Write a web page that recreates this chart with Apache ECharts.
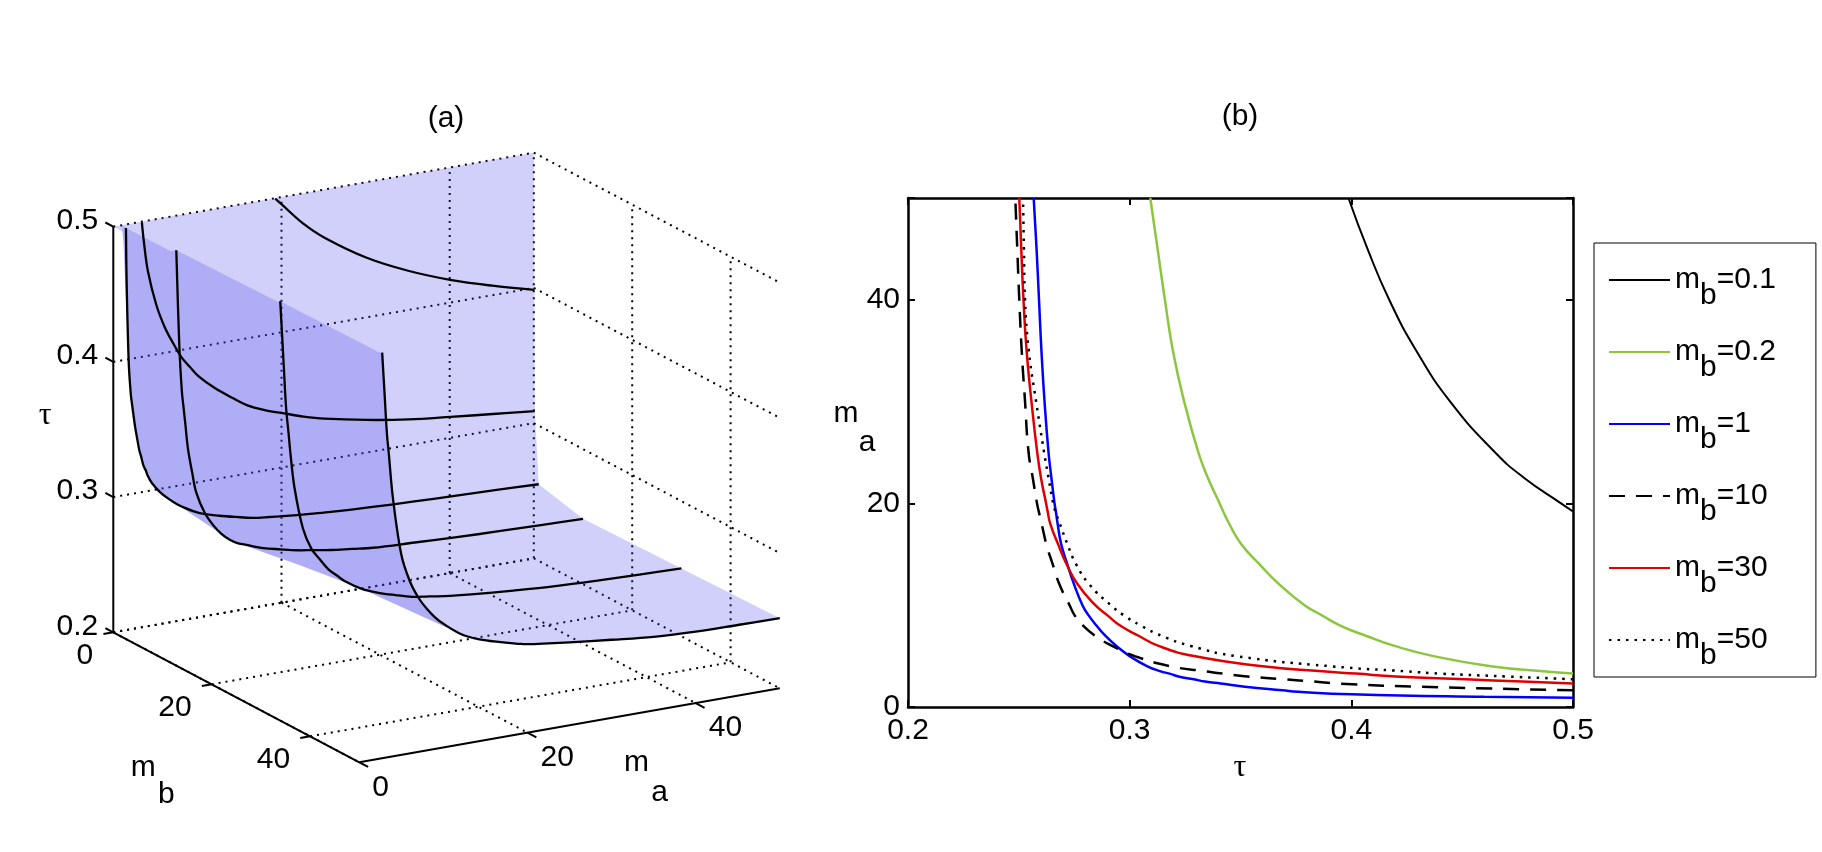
<!DOCTYPE html>
<html>
<head>
<meta charset="utf-8">
<title>Threshold tau surface and curves</title>
<script src="https://cdn.jsdelivr.net/npm/echarts@6/dist/echarts.min.js"></script>
<style>
  html, body { margin: 0; padding: 0; background: #fff; }
  #chart { width: 1822px; height: 852px; }
</style>
</head>
<body>
<div id="chart"></div>
<script>
const maGrid = [0, 0.92, 1, 1.25, 1.5, 1.64, 2, 2.3, 2.5, 2.72, 3, 3.28, 3.5, 4, 5, 6, 7, 8, 9, 10,
  12, 14, 16, 18, 19.2, 20, 22.5, 25, 30, 35, 40, 45, 50];

// tau on each m_b curve at the m_a values above (0.5 = sits on the tau limit)
const tauMb01 = [0.5, 0.5, 0.5, 0.5, 0.5, 0.5, 0.5, 0.5, 0.5, 0.5, 0.5, 0.5, 0.5, 0.5, 0.5, 0.5, 0.5,
  0.5, 0.5, 0.5, 0.5, 0.5, 0.5, 0.5, 0.5, 0.4946, 0.478, 0.4649, 0.4446, 0.4293, 0.4171, 0.4073, 0.3987];
const tauMb02 = [0.5, 0.5, 0.5, 0.5, 0.5, 0.5, 0.5, 0.5, 0.5, 0.5, 0.5, 0.5, 0.4865, 0.463, 0.437,
  0.4195, 0.4065, 0.395, 0.3867, 0.3789, 0.3677, 0.3586, 0.3503, 0.3449, 0.3422, 0.3406, 0.3353,
  0.331, 0.3246, 0.3195, 0.3159, 0.3126, 0.3093];
const tauMb1 = [0.5, 0.5, 0.46, 0.40, 0.376, 0.369, 0.352, 0.341, 0.334, 0.329, 0.322, 0.318, 0.314,
  0.308, 0.300, 0.294, 0.289, 0.285, 0.2815, 0.2787, 0.275, 0.2719, 0.2691, 0.2675, 0.2667, 0.2661,
  0.2647, 0.2634, 0.2616, 0.2602, 0.2591, 0.258, 0.2567];
const tauMb10 = [0.5, 0.5, 0.5, 0.5, 0.5, 0.5, 0.429, 0.395, 0.383, 0.370, 0.353, 0.342, 0.3346,
  0.3185, 0.3023, 0.2921, 0.2844, 0.279, 0.2752, 0.2729, 0.2684, 0.2653, 0.2624, 0.2603, 0.259,
  0.2582, 0.2563, 0.2544, 0.2528, 0.2513, 0.2502, 0.2493, 0.2484];
const tauMb30 = [0.5, 0.5, 0.5, 0.5, 0.5, 0.5, 0.5, 0.5, 0.477, 0.4515, 0.42, 0.402, 0.387, 0.36,
  0.329, 0.313, 0.304, 0.2957, 0.29, 0.2845, 0.2767, 0.2716, 0.2677, 0.2642, 0.263, 0.2623, 0.26,
  0.2583, 0.2557, 0.2535, 0.2521, 0.2511, 0.2502];
const tauMb50 = [0.5, 0.5, 0.5, 0.5, 0.5, 0.5, 0.5, 0.5, 0.5, 0.5, 0.47, 0.44, 0.425, 0.391, 0.348,
  0.3275, 0.3144, 0.305, 0.2974, 0.2915, 0.282, 0.2759, 0.2719, 0.2685, 0.2665, 0.2655, 0.2634,
  0.2614, 0.2578, 0.2545, 0.2528, 0.2523, 0.2519];

const mbValues = [0.1, 0.2, 1, 10, 30, 50];
const curveNames = ['m_b=0.1', 'm_b=0.2', 'm_b=1', 'm_b=10', 'm_b=30', 'm_b=50'];
const curveTaus = [tauMb01, tauMb02, tauMb1, tauMb10, tauMb30, tauMb50];

// axis ranges and ticks
const maRange = [0, 50], mbRange = [0, 50], tauRange = [0.2, 0.5];
const maTicks = [0, 20, 40], mbTicks = [0, 20, 40], tauTicks = [0.2, 0.3, 0.4, 0.5];

const curveStyles = [
  { color: '#000000', width: 2, type: 'solid' },
  { color: '#8cc63f', width: 2.5, type: 'solid' },
  { color: '#0000ff', width: 2.5, type: 'solid' },
  { color: '#000000', width: 2.5, type: [16, 11] },
  { color: '#e00000', width: 2.5, type: 'solid' },
  { color: '#000000', width: 2.5, type: [2.5, 6] }
];

const sans = '"Liberation Sans", Arial, Helvetica, sans-serif';
const serif = '"Liberation Serif", "DejaVu Serif", serif';
const fontSize = 30;
const surfaceFill = 'rgba(70, 66, 234, 0.25)';
const dotted = { stroke: '#000', lineWidth: 2, lineDash: [2, 5], fill: null };
const solid = { stroke: '#000', lineWidth: 2, fill: null };

// orthographic view of panel (a): screen shift for one unit along each axis
const view = { x0: 113.3, y0: 632.3, ma: [8.41, -1.48], mb: [4.92, 2.6], tau: [0, -1352] };

function project(ma, mb, tau) {
  return [
    view.x0 + ma * view.ma[0] + mb * view.mb[0],
    view.y0 + ma * view.ma[1] + mb * view.mb[1] + (tau - tauRange[0]) * view.tau[1]
  ];
}

function unit(v, len) {
  const n = Math.hypot(v[0], v[1]);
  return [v[0] / n * len, v[1] / n * len];
}

function textEl(text, x, y, align, opts) {
  return {
    type: 'text',
    style: Object.assign({
      text: text, x: x, y: y, fill: '#000', fontSize: fontSize, fontFamily: sans,
      align: align, verticalAlign: 'middle', textAlign: align, textVerticalAlign: 'middle'
    }, opts || {})
  };
}

function line3d(api, a, b, style) {
  return { type: 'polyline', shape: { points: [api.coord(project(...a)), api.coord(project(...b))] }, style: style };
}

function renderBoxGrid(params, api) {
  const els = [];
  const [ma0, ma1] = maRange, [mb0, mb1] = mbRange, [t0, t1] = tauRange;
  tauTicks.forEach(t => {
    els.push(line3d(api, [ma0, mb0, t], [ma1, mb0, t], dotted));   // back wall
    els.push(line3d(api, [ma1, mb0, t], [ma1, mb1, t], dotted));   // right wall
  });
  maTicks.forEach(m => {
    if (m > ma0) els.push(line3d(api, [m, mb0, t0], [m, mb0, t1], dotted));
    els.push(line3d(api, [m, mb0, t0], [m, mb1, t0], dotted));     // floor
  });
  mbTicks.forEach(m => {
    els.push(line3d(api, [ma1, m, t0], [ma1, m, t1], dotted));
    els.push(line3d(api, [ma0, m, t0], [ma1, m, t0], dotted));     // floor
  });
  return { type: 'group', children: els };
}

function renderSurface(params, api) {
  const rows = [{ mb: mbRange[0], taus: maGrid.map(() => tauRange[1]) }]
    .concat(mbValues.map((mb, i) => ({ mb: mb, taus: curveTaus[i] })));
  let up = '', down = '';
  for (let k = 0; k < rows.length - 1; k++) {
    for (let j = 0; j < maGrid.length - 1; j++) {
      const q = [
        [maGrid[j], rows[k].mb, rows[k].taus[j]],
        [maGrid[j + 1], rows[k].mb, rows[k].taus[j + 1]],
        [maGrid[j + 1], rows[k + 1].mb, rows[k + 1].taus[j + 1]],
        [maGrid[j], rows[k + 1].mb, rows[k + 1].taus[j]]
      ].map(p => api.coord(project(p[0], p[1], p[2])));
      [[q[0], q[1], q[2]], [q[0], q[2], q[3]]].forEach(t => {
        const area = (t[1][0] - t[0][0]) * (t[2][1] - t[0][1]) - (t[2][0] - t[0][0]) * (t[1][1] - t[0][1]);
        if (Math.abs(area) < 0.01) return;
        const d = 'M' + t.map(p => p[0].toFixed(2) + ',' + p[1].toFixed(2)).join('L') + 'Z';
        if (area > 0) up += d; else down += d;
      });
    }
  }
  // each facing is one fill, so the fold where they overlap shows darker
  return {
    type: 'group',
    children: [
      { type: 'path', shape: { pathData: up }, style: { fill: surfaceFill, stroke: null } },
      { type: 'path', shape: { pathData: down }, style: { fill: surfaceFill, stroke: null } }
    ]
  };
}

function renderCurves3d(params, api) {
  const els = mbValues.map((mb, i) => {
    const taus = curveTaus[i];
    const start = taus.lastIndexOf(tauRange[1]);
    const pts = maGrid.slice(start).map((ma, j) => api.coord(project(ma, mb, taus[start + j])));
    return { type: 'polyline', shape: { points: pts, smooth: 0.35 }, style: { stroke: '#000', lineWidth: 2.3, fill: null } };
  });
  return { type: 'group', children: els };
}

function renderAxes3d(params, api) {
  const els = [];
  const [ma0, ma1] = maRange, [mb0, mb1] = mbRange, [t0, t1] = tauRange;
  els.push(line3d(api, [ma0, mb0, t0], [ma0, mb0, t1], solid));
  els.push(line3d(api, [ma0, mb0, t0], [ma0, mb1, t0], solid));
  els.push(line3d(api, [ma0, mb1, t0], [ma1, mb1, t0], solid));

  const tickTau = unit([-view.mb[0], -view.mb[1]], 9);
  const tickMb = unit([-view.ma[0], -view.ma[1]], 10);
  const tickMa = unit([view.mb[0], view.mb[1]], 10);
  const tick = (p, d) => ({ type: 'polyline', shape: { points: [p, [p[0] + d[0], p[1] + d[1]]] }, style: solid });

  tauTicks.forEach(t => {
    const p = api.coord(project(ma0, mb0, t));
    els.push(tick(p, tickTau));
    els.push(textEl(t.toFixed(1), p[0] - 15, p[1] - 6, 'right'));
  });
  mbTicks.forEach(m => {
    const p = api.coord(project(ma0, m, t0));
    els.push(tick(p, tickMb));
    els.push(textEl(String(m), p[0] - 20, p[1] + 23, 'right'));
  });
  maTicks.forEach(m => {
    const p = api.coord(project(m, mb1, t0));
    els.push(tick(p, tickMa));
    els.push(textEl(String(m), p[0] + 13, p[1] + 25, 'left'));
  });

  // axis names
  const tauAnchor = api.coord(project(ma0, mb0, (t0 + t1) / 2));
  els.push(textEl('τ', tauAnchor[0] - 68, tauAnchor[1] - 14, 'center', { fontFamily: serif, fontSize: 32 }));
  const mbAnchor = api.coord(project(ma0, (mb0 + mb1) / 2, t0));
  els.push(textEl('m', mbAnchor[0] - 93, mbAnchor[1] + 70, 'center'));
  els.push(textEl('b', mbAnchor[0] - 70, mbAnchor[1] + 97, 'center'));
  const maAnchor = api.coord(project((ma0 + ma1) / 2, mb1, t0));
  els.push(textEl('m', maAnchor[0] + 67, maAnchor[1] + 37, 'center'));
  els.push(textEl('a', maAnchor[0] + 90, maAnchor[1] + 67, 'center'));
  return { type: 'group', children: els };
}

const axisText = { color: '#000', fontSize: fontSize, fontFamily: sans };
const blackLine = { color: '#000', width: 2.5 };

const lineSeries = mbValues.map((mb, i) => {
  const taus = curveTaus[i];
  const start = taus.lastIndexOf(tauRange[1]);
  return {
    name: curveNames[i],
    type: 'line',
    xAxisIndex: 0,
    yAxisIndex: 0,
    data: maGrid.slice(start).map((ma, j) => [taus[start + j], ma]),
    symbol: 'none',
    smooth: 0.5,
    lineStyle: curveStyles[i],
    itemStyle: { color: curveStyles[i].color },
    z: 3
  };
});

const customBase = { type: 'custom', coordinateSystem: 'cartesian2d', xAxisIndex: 2, yAxisIndex: 2, data: [0], silent: true };

const option = {
  animation: false,
  backgroundColor: '#fff',
  grid: [
    { left: 908, top: 198, width: 665, height: 509, outerBoundsMode: 'none' },
    { left: 0, top: 0, width: 1822, height: 852, outerBoundsMode: 'none' }
  ],
  xAxis: [
    {
      gridIndex: 0, type: 'value', min: 0.2, max: 0.5, interval: 0.1, position: 'bottom',
      axisLine: { show: true, onZero: false, lineStyle: blackLine },
      axisTick: { show: true, inside: true, length: 7, lineStyle: { color: '#000', width: 2 } },
      axisLabel: Object.assign({ margin: 9, showMinLabel: true, showMaxLabel: true }, axisText),
      splitLine: { show: false }
    },
    {
      gridIndex: 0, type: 'value', min: 0.2, max: 0.5, interval: 0.1, position: 'top',
      axisLine: { show: true, onZero: false, lineStyle: blackLine },
      axisTick: { show: true, inside: true, length: 7, lineStyle: { color: '#000', width: 2 } },
      axisLabel: { show: false },
      splitLine: { show: false }
    },
    { gridIndex: 1, type: 'value', min: 0, max: 1822, show: false }
  ],
  yAxis: [
    {
      gridIndex: 0, type: 'value', min: 0, max: 50, interval: 20, position: 'left',
      axisLine: { show: true, onZero: false, lineStyle: blackLine },
      axisTick: { show: true, inside: true, length: 7, lineStyle: { color: '#000', width: 2 } },
      axisLabel: Object.assign({ margin: 8, formatter: v => (v === 50 ? '' : String(v)) }, axisText),
      splitLine: { show: false }
    },
    {
      gridIndex: 0, type: 'value', min: 0, max: 50, interval: 20, position: 'right',
      axisLine: { show: true, onZero: false, lineStyle: blackLine },
      axisTick: { show: true, inside: true, length: 7, lineStyle: { color: '#000', width: 2 } },
      axisLabel: { show: false },
      splitLine: { show: false }
    },
    { gridIndex: 1, type: 'value', min: 0, max: 852, inverse: true, show: false }
  ],
  legend: {
    orient: 'vertical',
    left: 1594,
    top: 243,
    itemWidth: 61,
    itemHeight: 14,
    itemGap: 10,
    padding: [6, 40, 6, 14],
    borderColor: '#000',
    borderWidth: 1,
    selectedMode: false,
    itemStyle: { opacity: 0 },
    data: curveNames,
    formatter: name => '{m|m}{s|b}{m|' + name.slice(name.indexOf('=')) + '}',
    textStyle: {
      rich: {
        m: { fontSize: fontSize, fontFamily: sans, color: '#000', lineHeight: 36 },
        s: { fontSize: fontSize, fontFamily: sans, color: '#000', lineHeight: 36, padding: [32, 0, 0, 0] }
      }
    }
  },
  graphic: [
    { type: 'text', style: { text: '(a)', x: 446, y: 119, fill: '#000', fontSize: fontSize, fontFamily: sans, align: 'center', verticalAlign: 'middle' } },
    { type: 'text', style: { text: '(b)', x: 1240, y: 117, fill: '#000', fontSize: fontSize, fontFamily: sans, align: 'center', verticalAlign: 'middle' } },
    { type: 'text', style: { text: 'm', x: 846, y: 414, fill: '#000', fontSize: fontSize, fontFamily: sans, align: 'center', verticalAlign: 'middle' } },
    { type: 'text', style: { text: 'a', x: 867, y: 443, fill: '#000', fontSize: fontSize, fontFamily: sans, align: 'center', verticalAlign: 'middle' } },
    { type: 'text', style: { text: 'τ', x: 1240, y: 768, fill: '#000', fontSize: 32, fontFamily: serif, align: 'center', verticalAlign: 'middle' } }
  ],
  series: [
    Object.assign({ renderItem: renderBoxGrid, z: 1 }, customBase),
    Object.assign({ renderItem: renderSurface, z: 2 }, customBase),
    Object.assign({ renderItem: renderCurves3d, z: 3 }, customBase),
    Object.assign({ renderItem: renderAxes3d, z: 4 }, customBase)
  ].concat(lineSeries)
};

const chart = echarts.init(document.getElementById('chart'));
chart.setOption(option);
window.addEventListener('resize', () => chart.resize());
</script>
</body>
</html>
